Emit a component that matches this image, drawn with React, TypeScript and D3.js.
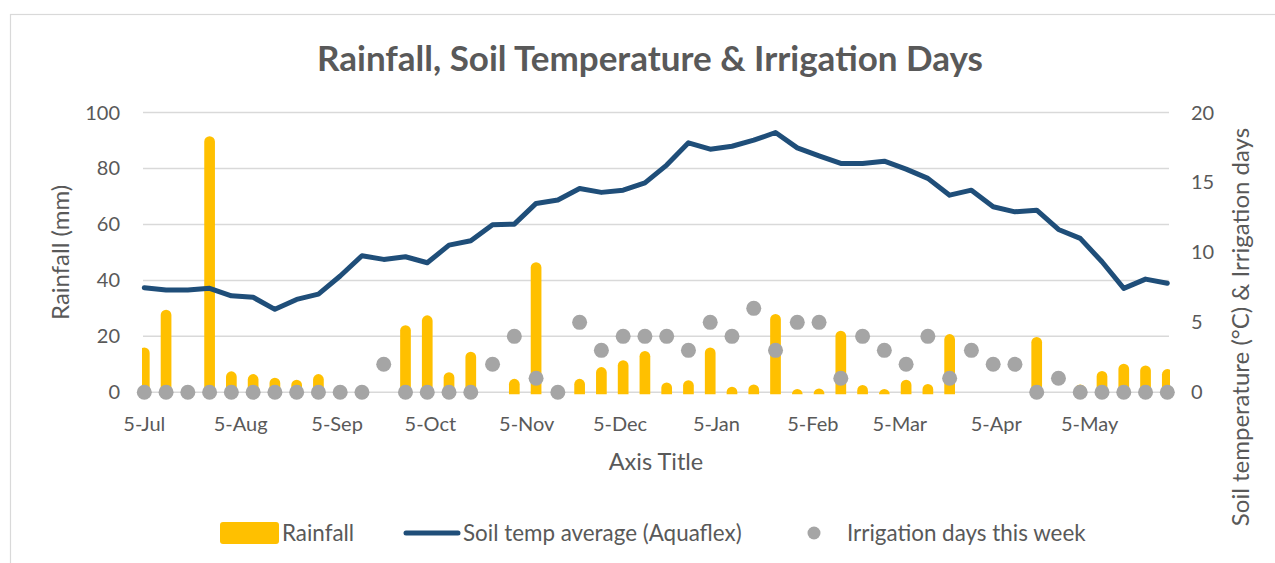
import React, { useRef, useEffect } from 'react';
import * as d3 from 'd3';

// week starting dates
const weeks = [
  '2020-07-05', '2020-07-12', '2020-07-19', '2020-07-26', '2020-08-02', '2020-08-09',
  '2020-08-16', '2020-08-23', '2020-08-30', '2020-09-06', '2020-09-13', '2020-09-20',
  '2020-09-27', '2020-10-04', '2020-10-11', '2020-10-18', '2020-10-25', '2020-11-01',
  '2020-11-08', '2020-11-15', '2020-11-22', '2020-11-29', '2020-12-06', '2020-12-13',
  '2020-12-20', '2020-12-27', '2021-01-03', '2021-01-10', '2021-01-17', '2021-01-24',
  '2021-01-31', '2021-02-07', '2021-02-14', '2021-02-21', '2021-02-28', '2021-03-07',
  '2021-03-14', '2021-03-21', '2021-03-28', '2021-04-04', '2021-04-11', '2021-04-18',
  '2021-04-25', '2021-05-02', '2021-05-09', '2021-05-16', '2021-05-23', '2021-05-30'
];

// rainfall (mm)
const rainfall = [
  16, 29.5, 0, 91.5, 7.5, 6.5, 5.2, 4.5, 6.5, 2, 0, 0,
  24, 27.5, 7.2, 14.5, 0, 4.8, 46.5, 0, 4.8, 9, 11.5, 14.8,
  3.5, 4.3, 16, 2, 2.8, 28, 1.2, 1.4, 22, 2.6, 1.2, 4.5,
  3, 20.8, 0, 0, 0, 19.8, 0, 2.8, 7.6, 10.2, 9.6, 8.3
];

// soil temp average (Aquaflex), °C
const soilTemp = [
  7.47, 7.31, 7.31, 7.43, 6.9, 6.79, 5.93, 6.64, 7.02, 8.31, 9.76, 9.5,
  9.69, 9.26, 10.52, 10.83, 11.97, 12.02, 13.5, 13.74, 14.57, 14.29, 14.45, 14.97,
  16.24, 17.83, 17.38, 17.59, 18.02, 18.57, 17.47, 16.9, 16.36, 16.36, 16.52, 15.95,
  15.29, 14.09, 14.45, 13.26, 12.9, 13.02, 11.64, 11.0, 9.33, 7.43, 8.09, 7.79
];

// irrigation days this week
const irrigation = [
  0, 0, 0, 0, 0, 0, 0, 0, 0, 0, 0, 2,
  0, 0, 0, 0, 2, 4, 1, 0, 5, 3, 4, 4,
  4, 3, 5, 4, 6, 3, 5, 5, 1, 4, 3, 2,
  4, 1, 3, 2, 2, 0, 1, 0, 0, 0, 0, 0
];

const tickDates = [
  '2020-07-05', '2020-08-05', '2020-09-05', '2020-10-05', '2020-11-05', '2020-12-05',
  '2021-01-05', '2021-02-05', '2021-03-05', '2021-04-05', '2021-05-05'
];
const leftTicks = [0, 20, 40, 60, 80, 100];
const rightTicks = [0, 5, 10, 15, 20];

const WIDTH = 1275;
const HEIGHT = 563;
const FONT = 'Lato, "Open Sans", sans-serif';
const TEXT = '#595959';
const GRID = '#d9d9d9';

const App: React.FC = () => {
  const svgRef = useRef<SVGSVGElement>(null);

  useEffect(() => {
    document.body.style.margin = '0';
    if (!svgRef.current) return;
    const svg = d3.select(svgRef.current);
    svg.selectAll('*').remove();

    const plot = { left: 143, right: 1169, top: 112.5, bottom: 392.3 };
    const parse = d3.utcParse('%Y-%m-%d');
    const dates = weeks.map(w => parse(w) as Date);

    const x = d3.scaleUtc()
      .domain([dates[0], dates[dates.length - 1]])
      .range([144.3, 1167.3]);
    const yLeft = d3.scaleLinear().domain([0, 100]).range([plot.bottom, plot.top]);
    const yRight = d3.scaleLinear().domain([0, 20]).range([plot.bottom, plot.top]);

    // chart frame
    svg.append('rect')
      .attr('x', 10.5).attr('y', 14.5)
      .attr('width', 1400).attr('height', 700)
      .attr('fill', 'white')
      .attr('stroke', GRID)
      .attr('stroke-width', 1.2);

    // title
    svg.append('text')
      .attr('x', 650).attr('y', 71)
      .attr('text-anchor', 'middle')
      .style('font-family', FONT)
      .style('font-size', '35px')
      .style('font-weight', 'bold')
      .style('fill', TEXT)
      .text('Rainfall, Soil Temperature & Irrigation Days');

    // gridlines
    svg.append('g')
      .selectAll('line')
      .data(leftTicks)
      .join('line')
      .attr('x1', plot.left).attr('x2', plot.right)
      .attr('y1', d => yLeft(d)).attr('y2', d => yLeft(d))
      .attr('stroke', GRID)
      .attr('stroke-width', 1.5);

    // left axis labels
    svg.append('g')
      .selectAll('text')
      .data(leftTicks)
      .join('text')
      .attr('x', 120)
      .attr('y', d => yLeft(d))
      .attr('dy', '0.35em')
      .attr('text-anchor', 'end')
      .style('font-family', FONT)
      .style('font-size', '20px')
      .style('fill', TEXT)
      .text(d => d);

    // right axis labels
    svg.append('g')
      .selectAll('text')
      .data(rightTicks)
      .join('text')
      .attr('x', 1191)
      .attr('y', d => yRight(d))
      .attr('dy', '0.35em')
      .attr('text-anchor', 'start')
      .style('font-family', FONT)
      .style('font-size', '20px')
      .style('fill', TEXT)
      .text(d => d);

    // x axis labels
    const fmt = d3.utcFormat('%-d-%b');
    svg.append('g')
      .selectAll('text')
      .data(tickDates.map(t => parse(t) as Date))
      .join('text')
      .attr('x', d => x(d))
      .attr('y', 431)
      .attr('text-anchor', 'middle')
      .style('font-family', FONT)
      .style('font-size', '20px')
      .style('fill', TEXT)
      .text(d => fmt(d));

    // axis titles
    svg.append('text')
      .attr('transform', `translate(69, ${(plot.top + plot.bottom) / 2}) rotate(-90)`)
      .attr('text-anchor', 'middle')
      .style('font-family', FONT)
      .style('font-size', '24px')
      .style('fill', TEXT)
      .text('Rainfall (mm)');

    svg.append('text')
      .attr('transform', 'translate(1249, 327) rotate(-90)')
      .attr('text-anchor', 'middle')
      .style('font-family', FONT)
      .style('font-size', '24px')
      .style('fill', TEXT)
      .text('Soil temperature (°C) & Irrigation days');

    svg.append('text')
      .attr('x', (plot.left + plot.right) / 2)
      .attr('y', 470)
      .attr('text-anchor', 'middle')
      .style('font-family', FONT)
      .style('font-size', '23.5px')
      .style('fill', TEXT)
      .text('Axis Title');

    // rainfall bars, rounded tops
    const bw = 10.7;
    const r = bw / 2;
    const clip = svg.append('clipPath').attr('id', 'plotclip');
    clip.append('rect')
      .attr('x', plot.left - 1).attr('y', 0)
      .attr('width', plot.right - plot.left + 2).attr('height', HEIGHT);

    svg.append('g')
      .attr('clip-path', 'url(#plotclip)')
      .selectAll('path')
      .data(rainfall.map((v, i) => ({ v, d: dates[i] })).filter(p => p.v > 0))
      .join('path')
      .attr('d', p => {
        const cx = x(p.d);
        const top = yLeft(p.v);
        const bottom = yLeft(0) + 2;
        const arcY = Math.min(top + r, bottom);
        return `M${cx - r},${bottom} L${cx - r},${arcY} A${r},${r} 0 0 1 ${cx + r},${arcY} L${cx + r},${bottom} Z`;
      })
      .attr('fill', '#ffc000');

    // soil temperature line
    const line = d3.line<number>()
      .x((_, i) => x(dates[i]))
      .y(d => yRight(d));
    svg.append('path')
      .datum(soilTemp)
      .attr('fill', 'none')
      .attr('stroke', '#1f4e79')
      .attr('stroke-width', 5)
      .attr('stroke-linejoin', 'round')
      .attr('stroke-linecap', 'round')
      .attr('d', line);

    // irrigation dots
    svg.append('g')
      .selectAll('circle')
      .data(irrigation)
      .join('circle')
      .attr('cx', (_, i) => x(dates[i]))
      .attr('cy', d => yRight(d))
      .attr('r', 7.5)
      .attr('fill', '#a5a5a5');

    // legend
    const legend = svg.append('g');
    legend.append('rect')
      .attr('x', 220).attr('y', 522)
      .attr('width', 59).attr('height', 22)
      .attr('rx', 3)
      .attr('fill', '#ffc000');
    legend.append('text')
      .attr('x', 282).attr('y', 533)
      .attr('dy', '0.35em')
      .style('font-family', FONT)
      .style('font-size', '22.4px')
      .style('fill', TEXT)
      .text('Rainfall');

    legend.append('line')
      .attr('x1', 406).attr('x2', 458)
      .attr('y1', 533).attr('y2', 533)
      .attr('stroke', '#1f4e79')
      .attr('stroke-width', 5)
      .attr('stroke-linecap', 'round');
    legend.append('text')
      .attr('x', 463).attr('y', 533)
      .attr('dy', '0.35em')
      .style('font-family', FONT)
      .style('font-size', '22.4px')
      .style('fill', TEXT)
      .text('Soil temp average (Aquaflex)');

    legend.append('circle')
      .attr('cx', 814).attr('cy', 533)
      .attr('r', 6.5)
      .attr('fill', '#a5a5a5');
    legend.append('text')
      .attr('x', 847).attr('y', 533)
      .attr('dy', '0.35em')
      .style('font-family', FONT)
      .style('font-size', '22.4px')
      .style('fill', TEXT)
      .text('Irrigation days this week');
  }, []);

  return (
    <div>
      <svg ref={svgRef} width={WIDTH} height={HEIGHT} style={{ display: 'block' }} />
    </div>
  );
};

export default App;
